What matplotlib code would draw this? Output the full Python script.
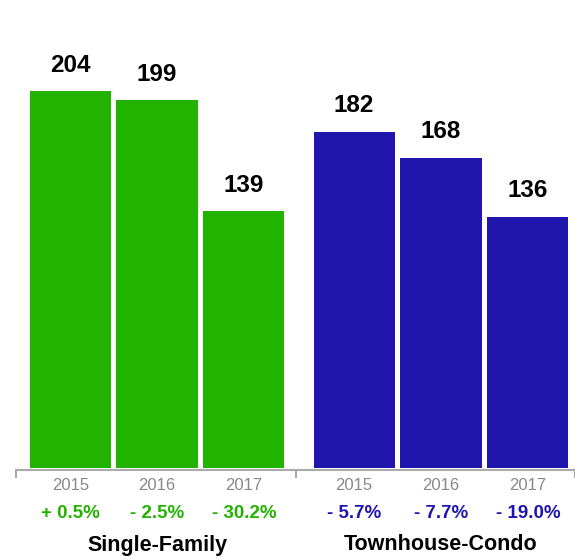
import matplotlib
matplotlib.use("Agg")
import matplotlib.pyplot as plt
import matplotlib.transforms as mtransforms

plt.rcParams['font.family'] = ['Liberation Sans', 'DejaVu Sans']

# --- dati ---
years = ['2015', '2016', '2017']
groups = ['Single-Family', 'Townhouse-Condo']
single_family = [204, 199, 139]
townhouse = [182, 168, 136]
pct_single = ['+ 0.5%', '- 2.5%', '- 30.2%']
pct_town = ['- 5.7%', '- 7.7%', '- 19.0%']

c_green = '#22B300'
c_blue = '#2016AE'
c_grid = '#AAAAAA'

# posizioni (unita' = passo tra barre)
gap = 1.27
x_sf = [0, 1, 2]
x_th = [i + 2 + gap for i in range(3)]
w = 0.935

fig = plt.figure(figsize=(5.75, 5.59), dpi=100)
W, H = 575, 559
base_px = 468
ax = fig.add_axes([16 / W, 1 - base_px / H, 1 - 16 / W, base_px / H])
px_unit = 87.3
x0 = 70.5
ax.set_xlim((16 - x0) / px_unit, (575 - x0) / px_unit)
ax.set_ylim(0, base_px / 1.848)

ax.bar(x_sf, single_family, width=w, color=c_green, linewidth=0)
ax.bar(x_th, townhouse, width=w, color=c_blue, linewidth=0)

# etichette valori sopra le barre
for xs, vals in [(x_sf, single_family), (x_th, townhouse)]:
    for x, v in zip(xs, vals):
        ax.annotate(str(v), (x, v), xytext=(0, 14), textcoords='offset points',
                    ha='center', va='baseline', fontsize=17.5, fontweight='bold', color='black')

# assi
for s in ['top', 'right', 'left']:
    ax.spines[s].set_visible(False)
ax.spines['bottom'].set_color(c_grid)
ax.spines['bottom'].set_linewidth(1.5)
ax.spines['bottom'].set_position(('outward', 1.5))
ax.set_yticks([])
ax.set_xticks([(16 - x0) / px_unit, (297 - x0) / px_unit, (578 - x0) / px_unit])
ax.set_xticklabels([])
ax.tick_params(axis='x', direction='out', length=6, width=1.5, color=c_grid)

trans = mtransforms.blended_transform_factory(ax.transData, fig.transFigure)
for xs, pcts, col in [(x_sf, pct_single, c_green), (x_th, pct_town, c_blue)]:
    for x, yr, p in zip(xs, years, pcts):
        ax.text(x, 1 - 485 / H, yr, transform=trans, ha='center', va='center',
                fontsize=12, color='#888888')
        ax.text(x, 1 - 514 / H, p, transform=trans, ha='center', va='center',
                fontsize=13.5, fontweight='bold', color=col)
ax.text(x_sf[1], 1 - 545 / H, groups[0], transform=trans, ha='center', va='center',
        fontsize=15.5, fontweight='bold', color='black')
ax.text(x_th[1], 1 - 545 / H, groups[1], transform=trans, ha='center', va='center',
        fontsize=15.5, fontweight='bold', color='black')

fig.savefig('out.png', dpi=100)
